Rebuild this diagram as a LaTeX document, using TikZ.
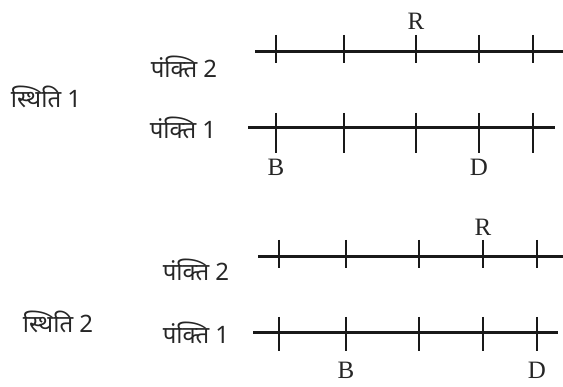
\documentclass[tikz,border=0pt]{standalone}
\usepackage{fontspec}
\newfontfamily\devfont[Script=Devanagari]{Noto Sans}
\newfontfamily\letfont{Liberation Serif}
\begin{document}
\begin{tikzpicture}[x=1pt,y=-1pt,
  lbl/.style={font=\devfont\fontsize{24}{24}\selectfont, text=black!85, inner sep=0pt},
  let/.style={font=\letfont\fontsize{25}{25}\selectfont, text=black!85, inner sep=0pt},
  axis/.style={line width=3pt, black!90},
  tick/.style={line width=2.8pt, black!90}]
\useasboundingbox (0,0) rectangle (563,387);
% ---------- situation 1 ----------
\node[lbl] (s1) at (46,97) {स्थिति 1};
\node[lbl] (a2) at (184,67) {पंक्ति 2};
\node[lbl] (a1) at (183,128) {पंक्ति 1};
\coordinate (a2s) at (255,52); \coordinate (a2e) at (563,52);
\coordinate (a1s) at (248,128); \coordinate (a1e) at (555,128);
\draw[axis] (a2s) -- (a2e);
\draw[axis] (a1s) -- (a1e);
\foreach \x in {276,344,416,479,533} {
  \draw[tick] (\x,35) -- (\x,63);
  \draw[tick] (\x,113) -- (\x,153);
}
\node[let] (r1) at (416,21) {R};
\node[let] (b1) at (276,167) {B};
\node[let] (d1) at (479,167) {D};
% ---------- situation 2 ----------
\node[lbl] (s2) at (58,322) {स्थिति 2};
\node[lbl] (c2) at (196,270) {पंक्ति 2};
\node[lbl] (c1) at (196,333) {पंक्ति 1};
\coordinate (c2s) at (258,257); \coordinate (c2e) at (563,257);
\coordinate (c1s) at (253,333); \coordinate (c1e) at (558,333);
\draw[axis] (c2s) -- (c2e);
\draw[axis] (c1s) -- (c1e);
\foreach \x in {279,346,419,483,537} {
  \draw[tick] (\x,240) -- (\x,268);
  \draw[tick] (\x,317) -- (\x,351);
}
\node[let] (r2) at (483,227) {R};
\node[let] (b2) at (346,370) {B};
\node[let] (d2) at (537,370) {D};
\end{tikzpicture}
\end{document}
